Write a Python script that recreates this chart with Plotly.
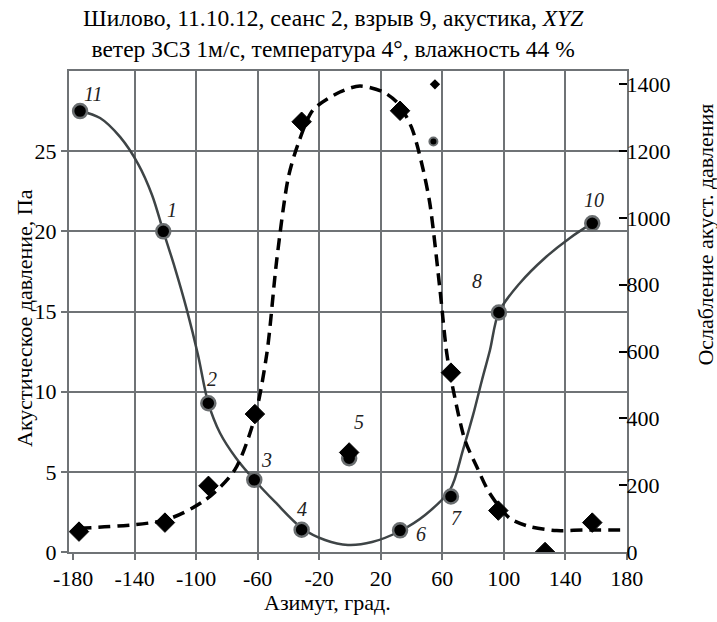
import plotly.graph_objects as go

# ---------------- data ----------------
# acoustic pressure points (left axis, Pa)
pt_labels = ["11", "1", "2", "3", "4", "5", "6", "7", "8", "10"]
pt_az = [-175.5, -121.4, -92.1, -62.2, -31.4, -0.5, 32.6, 65.7, 96.9, 157.6]
pt_pa = [27.5, 20.0, 9.28, 4.5, 1.39, 5.85, 1.35, 3.46, 14.94, 20.5]
# label offsets (px) relative to the points
lab_dx = [13, 9, 4, 12, 0, 10, 21, 6, -22, 2]
lab_dy = [17, 21, 24, 20, 21, 36, -4, -21, 31, 23]

# solid trend curve
curve_az = [-175.5, -162.5, -149.5, -137.8, -128.7, -121.4, -113.8, -106.0, -98.8,
            -92.1, -84.5, -74.1, -62.2, -48.7, -31.4, -16.2, -1.3, 14.4, 32.6,
            48.9, 65.1, 73.5, 80.1, 85.9, 91.1, 96.9, 110.6, 126.8, 143.1, 157.6]
curve_pa = [27.51, 27.07, 25.89, 24.21, 22.27, 20.02, 17.71, 15.09, 12.29,
            9.28, 7.42, 5.86, 4.49, 3.12, 1.50, 0.75, 0.44, 0.62, 1.31,
            2.31, 3.87, 6.36, 8.55, 10.73, 12.60, 14.97, 16.78, 18.34, 19.59, 20.51]

# attenuation points (right axis)
att_az = [-176.2, -120.3, -92.0, -61.8, -0.5, -31.4, 32.6, 65.7, 96.5, 126.9, 157.6]
att_val = [61, 88, 198, 413, 298, 1288, 1321, 537, 124, 0, 88]

# dashed trend curve for attenuation
att_curve_az = [-176, -120, -94, -75, -62, -54, -47.6, -40, -33.6, -24, -6.5, 6.5,
                21.7, 31.5, 40, 43.4, 47.7, 52, 58.6, 63, 67.2, 74.8, 82.5, 91,
                104, 117, 134.5, 151.8, 178]
att_curve_val = [71, 96, 156, 245, 401, 595, 874, 1123, 1223, 1323, 1377, 1395,
                 1377, 1342, 1272, 1223, 1143, 1043, 784, 594, 485, 335, 255, 175,
                 101, 76, 64, 66, 66]

# isolated small markers
small_circ_az = [54.3]
small_circ_pa = [25.6]
small_dia_az = [55.3]
small_dia_val = [1400]

x_ticks = list(range(-180, 181, 40))
x_ticktext = [str(v) for v in x_ticks]          # plain hyphen-minus as in the original
x_grid = list(range(-140, 141, 40))
y_ticks = [0, 5, 10, 15, 20, 25]
y2_ticks = [0, 200, 400, 600, 800, 1000, 1200, 1400]

title_text = ("Шилово, 11.10.12, сеанс 2, взрыв 9, акустика, <i>XYZ</i><br>"
              "ветер ЗСЗ 1м/с, температура 4°, влажность 44 %")
x_title = "Азимут, град."
y_title = "Акустическое давление, Па"
y2_title = "Ослабление акуст. давления"

# ---------------- style ----------------
FONT = "'Liberation Serif', 'Times New Roman', Tinos, 'DejaVu Serif', serif"
GRID = "#6f7376"
CURVE = "#3e4446"

fig = go.Figure()

fig.add_trace(go.Scatter(x=curve_az, y=curve_pa, mode="lines",
                         line=dict(color=CURVE, width=2.5, shape="spline", smoothing=0.9),
                         hoverinfo="skip", showlegend=False))
fig.add_trace(go.Scatter(x=att_curve_az, y=att_curve_val, yaxis="y2", mode="lines",
                         line=dict(color="black", width=3.5, dash="12px,7px",
                                   shape="spline", smoothing=0.8),
                         hoverinfo="skip", showlegend=False))
fig.add_trace(go.Scatter(x=att_az, y=att_val, yaxis="y2", mode="markers",
                         marker=dict(symbol="diamond", size=15, color="black",
                                     line=dict(color="black", width=1)),
                         showlegend=False))
fig.add_trace(go.Scatter(x=small_dia_az, y=small_dia_val, yaxis="y2", mode="markers",
                         marker=dict(symbol="diamond", size=8, color="black"),
                         showlegend=False))
fig.add_trace(go.Scatter(x=pt_az, y=pt_pa, mode="markers",
                         marker=dict(symbol="circle", size=14, color="black",
                                     line=dict(color="#6a6e70", width=2.5)),
                         showlegend=False))
fig.add_trace(go.Scatter(x=small_circ_az, y=small_circ_pa, mode="markers",
                         marker=dict(symbol="circle", size=8, color="black",
                                     line=dict(color="#6a6e70", width=2)),
                         showlegend=False))

annotations = []
for lab, xa, ya, dx, dy in zip(pt_labels, pt_az, pt_pa, lab_dx, lab_dy):
    annotations.append(dict(x=xa, y=ya, xref="x", yref="y", text="<i>%s</i>" % lab,
                            showarrow=False, xshift=dx, yshift=dy,
                            font=dict(family=FONT, size=20, color="#222")))

annotations += [
    dict(x=0.474, y=1.079, xref="paper", yref="paper", text=title_text, showarrow=False,
         xanchor="center", yanchor="middle", font=dict(family=FONT, size=23.5, color="black")),
    dict(x=0.4624, y=-0.106, xref="paper", yref="paper", text=x_title, showarrow=False,
         xanchor="center", yanchor="middle", font=dict(family=FONT, size=22, color="black")),
    dict(x=-0.079, y=0.4865, xref="paper", yref="paper", text=y_title, showarrow=False,
         textangle=-90, xanchor="center", yanchor="middle",
         font=dict(family=FONT, size=22, color="black")),
    dict(x=1.1416, y=0.66, xref="paper", yref="paper", text=y2_title, showarrow=False,
         textangle=-90, xanchor="center", yanchor="middle",
         font=dict(family=FONT, size=22, color="black")),
]

fig.update_layout(
    width=717, height=622,
    margin=dict(l=69, r=90, t=71, b=70),
    paper_bgcolor="white", plot_bgcolor="white",
    font=dict(family=FONT, size=22, color="black"),
    showlegend=False,
    annotations=annotations,
    xaxis=dict(range=[-182.7, 180.2], tickvals=x_ticks, ticktext=x_ticktext, showgrid=False,
               minor=dict(tickvals=x_grid, showgrid=True, gridcolor=GRID, gridwidth=2, ticks=""),
               showline=True, linecolor=GRID, linewidth=2, mirror=True,
               ticks="outside", ticklen=6, tickwidth=2, tickcolor=GRID,
               zeroline=False, tickfont=dict(family=FONT, size=22, color="black")),
    yaxis=dict(range=[0, 30], tickvals=y_ticks, showgrid=True, gridcolor=GRID, gridwidth=2,
               showline=True, linecolor=GRID, linewidth=2,
               ticks="outside", ticklen=6, tickwidth=2, tickcolor=GRID,
               zeroline=False, tickfont=dict(family=FONT, size=22, color="black")),
    yaxis2=dict(range=[0, 1440], tickvals=y2_ticks, overlaying="y", side="right",
                showgrid=False, showline=True, linecolor=GRID, linewidth=2,
                ticks="inside", ticklen=8, tickwidth=1.5, tickcolor="black",
                ticklabelstandoff=-7,
                zeroline=False, tickfont=dict(family=FONT, size=22, color="black")),
)

fig.write_html("out.html")
